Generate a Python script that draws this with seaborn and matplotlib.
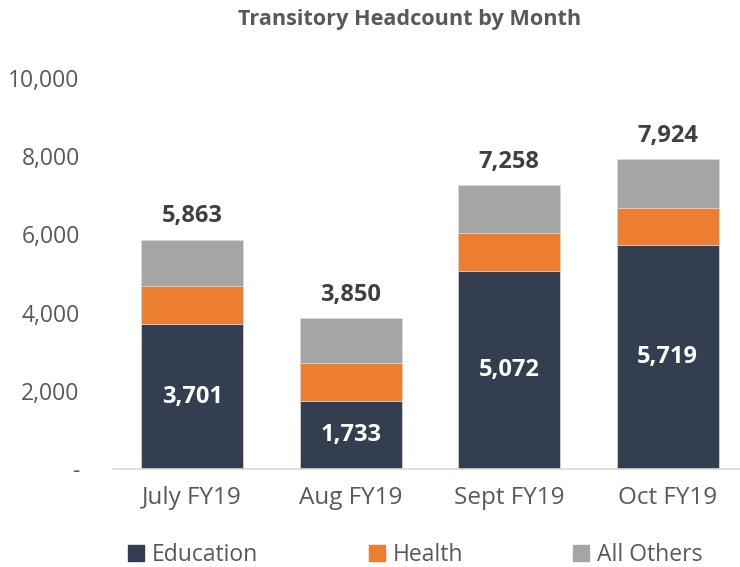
import matplotlib
matplotlib.use("Agg")
import matplotlib.pyplot as plt
import seaborn as sns
import pandas as pd
import numpy as np
from matplotlib.patches import Patch

months = ["July FY19", "Aug FY19", "Sept FY19", "Oct FY19"]
education = [3701, 1733, 5072, 5719]
health = [984, 975, 967, 950]
totals = [5863, 3850, 7258, 7924]
others = [t - e - h for t, e, h in zip(totals, education, health)]
yticks = [0, 2000, 4000, 6000, 8000, 10000]
ytick_labels = ["-", "2,000", "4,000", "6,000", "8,000", "10,000"]
series = ["Education", "Health", "All Others"]

c_edu = "#333F50"
c_health = "#ED7D31"
c_other = "#A5A5A5"
txt = "#595959"

sns.set_theme(style="white")
plt.rcParams["font.family"] = ["Open Sans", "DejaVu Sans"]

df = pd.DataFrame({
    "month": months,
    "edu": education,
    "edu_health": [e + h for e, h in zip(education, health)],
    "total": [e + h + o for e, h, o in zip(education, health, others)],
})

fig = plt.figure(figsize=(7.4, 5.67), dpi=100)
ax = fig.add_axes([113 / 740, 0.1728, 1 - 113 / 740, 0.6896])

w = 0.643
for col, c in [("total", c_other), ("edu_health", c_health), ("edu", c_edu)]:
    sns.barplot(data=df, x="month", y=col, color=c, width=w, ax=ax,
                edgecolor="#D9D9D9", linewidth=0.6, saturation=1)

ax.set_ylim(0, 10000)
ax.set_xlim(-0.5, 3.457)
ax.set_yticks(yticks)
ax.set_yticklabels(ytick_labels)
ax.set_xlabel("")
ax.set_ylabel("")
for s in ["top", "right", "left"]:
    ax.spines[s].set_visible(False)
ax.spines["bottom"].set_color("#D9D9D9")
ax.spines["bottom"].set_linewidth(1.2)
ax.tick_params(axis="y", length=0, pad=24, labelsize=16.5, labelcolor=txt)
ax.tick_params(axis="x", length=0, pad=12, labelsize=17.5, labelcolor=txt)

for i, (e, t) in enumerate(zip(education, totals)):
    ax.text(i, e / 2, f"{e:,}", ha="center", va="center", color="white",
            fontsize=17, fontweight="bold")
    ax.text(i, t + 600, f"{t:,}", ha="center", va="center", color="#404040",
            fontsize=17, fontweight="bold")

fig.text(0.553, 0.965, "Transitory Headcount by Month", ha="center", va="center",
         fontsize=15.6, fontweight="bold", color=txt)

colors = [c_edu, c_health, c_other]
xpos = [128 / 740, 369 / 740, 573 / 740]
for name, col, xp in zip(series, colors, xpos):
    fig.legend([Patch(color=col)], [name], loc="center left",
               bbox_to_anchor=(xp, 0.021), frameon=False, fontsize=16.5,
               handlelength=0.7, handleheight=0.7, handletextpad=0.35,
               borderpad=0, borderaxespad=0, labelcolor=txt)

fig.savefig("out.png", dpi=100)
